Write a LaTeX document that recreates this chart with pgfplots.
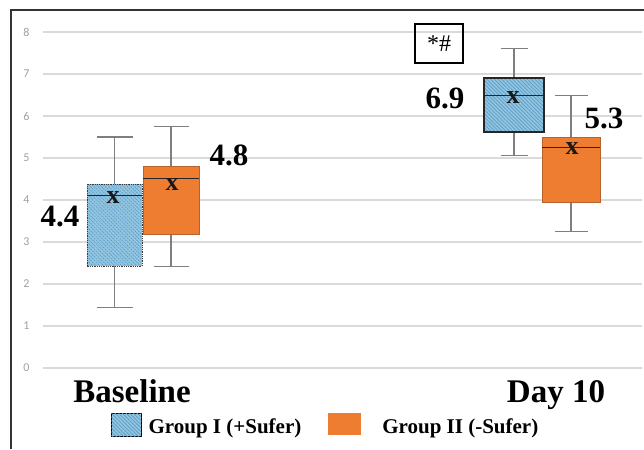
\documentclass[border=0pt]{standalone}
\usepackage{fontspec}
\setmainfont{Liberation Serif}
\newfontfamily\calibri{Carlito}
\usepackage{pgfplots}
\pgfplotsset{compat=1.18}
\usepgfplotslibrary{statistics}
\usetikzlibrary{patterns.meta}
\definecolor{gblue}{HTML}{93C5E1}
\definecolor{gbline}{HTML}{5A9BC4}
\definecolor{gorange}{HTML}{EE7D31}
\definecolor{oborder}{HTML}{B5632A}
\definecolor{bborder}{HTML}{3A3A3A}
\definecolor{whisk}{HTML}{7F7F7F}
\definecolor{gridc}{HTML}{DADADA}
\definecolor{tickc}{HTML}{A0A0A0}
\begin{document}
\begin{tikzpicture}
\useasboundingbox (0,0) rectangle (644pt,449pt);
\draw[color=black!80, line width=1.1pt] (11pt,0pt) -- (11pt,439pt) -- (644pt,439pt);
\begin{axis}[
  at={(43pt,81pt)}, anchor=south west,
  scale only axis, width=599pt, height=336pt,
  xmin=0.43, xmax=6.42, ymin=0, ymax=8,
  clip=false,
  axis line style={draw=none},
  major tick length=0pt,
  xtick=\empty,
  ytick={0,1,2,3,4,5,6,7,8},
  ymajorgrids,
  grid style={gridc, line width=1.3pt},
  yticklabel style={font=\calibri\fontsize{12}{13}\selectfont, text=tickc, xshift=-10pt},
  /pgf/number format/assume math mode=true,
  legend image code/.code={\draw[#1] (0pt,-9pt) rectangle (30pt,14pt);},
  legend style={at={(axis cs:1.08,-1.36)}, anchor=west, legend columns=2, draw=none, fill=none,
    font=\fontsize{21}{24}\selectfont\bfseries,
    /tikz/every odd column/.append style={column sep=5pt},
    /tikz/every even column/.append style={column sep=25pt}},
  boxplot/draw direction=y,
  boxplot/every whisker/.style={draw=whisk, line width=1.1pt},
  boxplot/every median/.style={draw=black!85, line width=1pt},
]
\addlegendimage{draw=none, fill=gblue, postaction={pattern={Lines[angle=135,distance=2.6pt,line width=0.7pt]}, pattern color=gbline}}
\addlegendentry{Group I (+Sufer)}
\addlegendimage{draw=none, legend image code/.code={\fill[gorange, draw=none] (0pt,-8pt) rectangle (33pt,14pt); \path[draw=none, fill=none] (0pt,0pt) -- (47pt,0pt);}}
\addlegendentry{Group II (-Sufer)}

% Baseline Group I
\addplot[forget plot, draw=bborder, boxplot prepared={draw position=1.145, lower whisker=1.45, lower quartile=2.43, median=4.1, upper quartile=4.38, upper whisker=5.5, box extend=0.55, whisker extend=0.36},
  boxplot/every box/.style={draw=bborder, densely dotted, line width=0.8pt, fill=gblue, postaction={pattern={Lines[angle=135,distance=2.6pt,line width=0.7pt]}, pattern color=gbline}}] coordinates {};
% Baseline Group II
\addplot[forget plot, draw=oborder, boxplot prepared={draw position=1.71, lower whisker=2.42, lower quartile=3.17, median=4.52, upper quartile=4.81, upper whisker=5.74, box extend=0.56, whisker extend=0.35},
  boxplot/every box/.style={draw=oborder, line width=0.8pt, fill=gorange}] coordinates {};
% Day 10 Group I
\addplot[forget plot, draw=bborder, boxplot prepared={draw position=5.14, lower whisker=5.07, lower quartile=5.62, median=6.48, upper quartile=6.9, upper whisker=7.6, box extend=0.60, whisker extend=0.27},
  boxplot/every box/.style={draw=black!85, line width=1.4pt, fill=gblue, postaction={pattern={Lines[angle=135,distance=2.6pt,line width=0.7pt]}, pattern color=gbline}}] coordinates {};
% Day 10 Group II
\addplot[forget plot, draw=oborder, boxplot prepared={draw position=5.71, lower whisker=3.26, lower quartile=3.95, median=5.24, upper quartile=5.5, upper whisker=6.48, box extend=0.58, whisker extend=0.33},
  boxplot/every box/.style={draw=oborder, line width=0.8pt, fill=gorange}] coordinates {};

% means
\addplot[forget plot, only marks, mark=text, text mark={\color{black!90}\fontsize{26}{26}\selectfont\bfseries x}]
  coordinates {(1.13,4.05) (1.72,4.36) (5.13,6.45) (5.72,5.22)};

% value labels
\node[anchor=base, font=\fontsize{31}{31}\selectfont\bfseries] at (axis cs:0.60,3.38) {4.4};
\node[anchor=base, font=\fontsize{31}{31}\selectfont\bfseries] at (axis cs:2.29,4.83) {4.8};
\node[anchor=base, font=\fontsize{31}{31}\selectfont\bfseries] at (axis cs:4.45,6.19) {6.9};
\node[anchor=base, font=\fontsize{31}{31}\selectfont\bfseries] at (axis cs:6.04,5.71) {5.3};
\node[draw=black, line width=1.4pt, minimum width=48pt, minimum height=39pt, inner sep=0pt, font=\fontsize{24}{24}\selectfont] at (axis cs:4.39,7.73) {*\#};
% category labels
\node[anchor=base, font=\fontsize{33}{33}\selectfont\bfseries] at (axis cs:1.32,-0.81) {Baseline};
\node[anchor=base, font=\fontsize{33}{33}\selectfont\bfseries] at (axis cs:5.56,-0.81) {Day 10};
\end{axis}
\end{tikzpicture}
\end{document}
